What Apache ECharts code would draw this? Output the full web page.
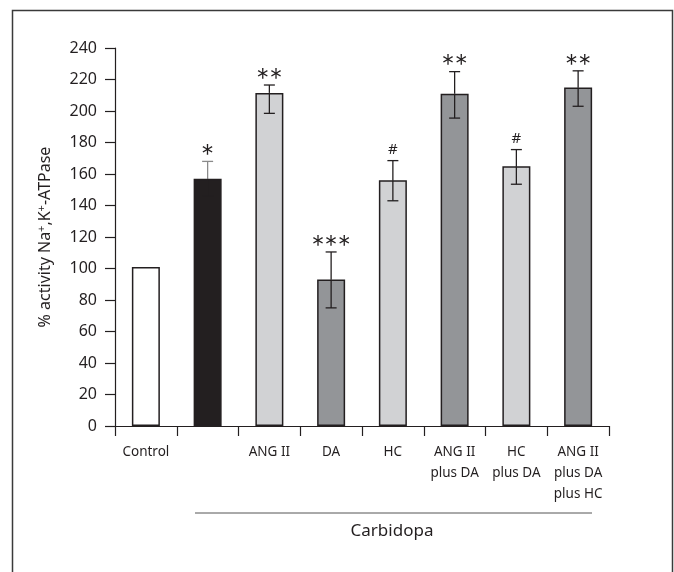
<!DOCTYPE html>
<html>
<head>
<meta charset="utf-8">
<script src="https://cdn.jsdelivr.net/npm/echarts@6/dist/echarts.min.js"></script>
<style>html,body{margin:0;padding:0;background:#fff}#c{width:674px;height:572px}</style>
</head>
<body>
<div id="c"></div>
<script>
var categories = ['Control', '', 'ANG II', 'DA', 'HC', 'ANG II\nplus DA', 'HC\nplus DA', 'ANG II\nplus DA\nplus HC'];
var values = [101, 157, 211.5, 93, 156, 211, 165, 215];
var errHigh = [null, 168, 216.5, 110.5, 168.5, 225, 175.5, 225.5];
var errLow = [null, 146, 198.5, 75, 143, 195.5, 153.5, 203];
var marks = ['', '*', '**', '***', '#', '**', '#', '**'];
var yTicks = [0, 240, 20];
var barColors = ['#ffffff', '#231f20', '#d1d2d4', '#939598', '#d1d2d4', '#939598', '#d1d2d4', '#939598'];
var whiskerColors = ['#231f20', '#8a8a8a', '#231f20', '#231f20', '#231f20', '#231f20', '#231f20', '#231f20'];

var dark = '#231f20';
var chart = echarts.init(document.getElementById('c'), null, {renderer: 'canvas'});

var errData = categories.map(function (c, i) { return [i, errLow[i], errHigh[i], values[i]]; });

chart.setOption({
  animation: false,
  grid: {left: 115, right: 65, top: 48, bottom: 146},
  xAxis: {
    type: 'category',
    data: categories,
    axisLine: {lineStyle: {color: dark, width: 1.2}},
    axisTick: {show: true, length: 10, lineStyle: {color: dark, width: 1.2}},
    axisLabel: {color: dark, fontFamily: 'Noto Sans', fontSize: 13.5, lineHeight: 21, margin: 16, interval: 0}
  },
  yAxis: {
    type: 'value',
    min: yTicks[0], max: yTicks[1], interval: yTicks[2],
    name: '% activity Na{sup|+},K{sup|+}-ATPase',
    nameLocation: 'middle',
    nameRotate: 90,
    nameGap: 60,
    nameTextStyle: {color: dark, fontFamily: 'Noto Sans', fontSize: 16,
      rich: {sup: {fontSize: 11, verticalAlign: 'top', color: dark, fontFamily: 'Noto Sans', padding: [0, 0, 8, 0]}}},
    axisLine: {show: true, lineStyle: {color: dark, width: 1.2}},
    axisTick: {show: true, length: 10, lineStyle: {color: dark, width: 1.2}},
    axisLabel: {color: dark, fontFamily: 'Noto Sans', fontSize: 16, margin: 18},
    splitLine: {show: false}
  },
  series: [
    {
      type: 'bar',
      barWidth: 28,
      data: values.map(function (v, i) {
        return {value: v, itemStyle: {color: barColors[i], borderColor: dark, borderWidth: 1.5}};
      }),
      z: 2
    },
    {
      type: 'custom',
      z: 5,
      data: errData,
      renderItem: function (params, api) {
        var i = params.dataIndex;
        var children = [];
        var xi = api.value(0);
        var top = api.coord([xi, errHigh[i] == null ? values[i] : errHigh[i]]);
        var mid = api.coord([xi, values[i]]);
        var cap = 5.5;
        if (errHigh[i] != null) {
          var low = api.coord([xi, errLow[i]]);
          children.push({type: 'line', shape: {x1: top[0], y1: top[1], x2: mid[0], y2: mid[1]}, style: {stroke: whiskerColors[i], lineWidth: 1.3}});
          children.push({type: 'line', shape: {x1: top[0] - cap, y1: top[1], x2: top[0] + cap, y2: top[1]}, style: {stroke: whiskerColors[i], lineWidth: 1.3}});
          children.push({type: 'line', shape: {x1: mid[0], y1: mid[1], x2: low[0], y2: low[1]}, style: {stroke: dark, lineWidth: 1.3}});
          children.push({type: 'line', shape: {x1: low[0] - cap, y1: low[1], x2: low[0] + cap, y2: low[1]}, style: {stroke: dark, lineWidth: 1.3}});
        }
        if (marks[i]) {
          var isHash = marks[i] === '#';
          children.push({
            type: 'text',
            style: {
              text: marks[i],
              x: top[0],
              y: top[1] - (isHash ? 3 : -7),
              align: 'center',
              verticalAlign: 'bottom',
              fill: dark,
              fontFamily: isHash ? 'Noto Sans' : 'Inter',
              fontWeight: isHash ? 'normal' : 300,
              fontSize: isHash ? 15 : 26
            }
          });
        }
        return {type: 'group', children: children};
      }
    }
  ],
  graphic: [
    {type: 'rect', shape: {x: 12.5, y: 10.5, width: 660, height: 620}, style: {fill: 'none', stroke: '#3a3a3a', lineWidth: 1.5}, silent: true},
    {type: 'line', shape: {x1: 195, y1: 513, x2: 592, y2: 513}, style: {stroke: '#555', lineWidth: 1}},
    {type: 'text', style: {text: 'Carbidopa', x: 392, y: 531, align: 'center', verticalAlign: 'middle', fill: dark, fontFamily: 'Noto Sans', fontSize: 17}}
  ]
});
</script>
</body>
</html>
